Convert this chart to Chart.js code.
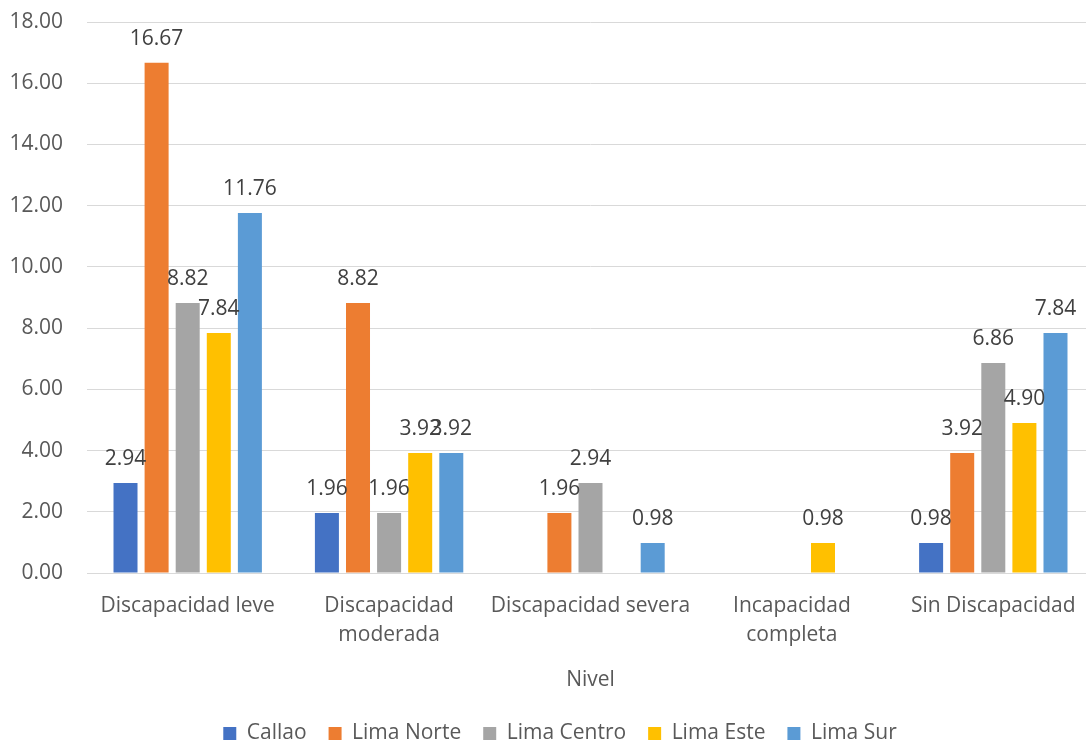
<!DOCTYPE html>
<html>
<head>
<meta charset="utf-8">
<script src="https://cdn.jsdelivr.net/npm/chart.js@4/dist/chart.umd.min.js"></script>
<style>
html,body{margin:0;padding:0;background:#fff;overflow:hidden;}
#wrap{width:1086px;height:742px;overflow:hidden;position:relative;}
#c{position:absolute;left:0;top:0;}
</style>
</head>
<body>
<div id="wrap"><canvas id="c" width="1094" height="754"></canvas></div>
<script>
const categories = ["Discapacidad leve", ["Discapacidad","moderada"], "Discapacidad severa", ["Incapacidad","completa"], "Sin Discapacidad"];
const seriesNames = ["Callao", "Lima Norte", "Lima Centro", "Lima Este", "Lima Sur"];
const callao     = [2.94, 1.96, null, null, 0.98];
const limaNorte  = [16.67, 8.82, 1.96, null, 3.92];
const limaCentro = [8.82, 1.96, 2.94, null, 6.86];
const limaEste   = [7.84, 3.92, null, 0.98, 4.90];
const limaSur    = [11.76, 3.92, 0.98, null, 7.84];
const colors = ["#4472C4", "#ED7D31", "#A5A5A5", "#FFC000", "#5B9BD5"];
const yTicks = {min: 0, max: 18, step: 2};
const axisTitle = "Nivel";

const FONT = "'Open Sans', sans-serif";
const seriesValues = [callao, limaNorte, limaCentro, limaEste, limaSur];

const labelPlugin = {
  id: 'valueLabels',
  afterDatasetsDraw(chart) {
    const ctx = chart.ctx;
    ctx.save();
    ctx.font = "21px " + FONT;
    ctx.fillStyle = "#404040";
    ctx.textAlign = "center";
    ctx.textBaseline = "alphabetic";
    chart.data.datasets.forEach((ds, i) => {
      const meta = chart.getDatasetMeta(i);
      meta.data.forEach((el, j) => {
        const v = ds.data[j];
        if (v === null || v === undefined) return;
        ctx.fillText(v.toFixed(2), el.x, el.y - 18);
      });
    });
    ctx.restore();
  }
};

new Chart(document.getElementById('c'), {
  type: 'bar',
  data: {
    labels: categories,
    datasets: seriesNames.map((n, i) => ({
      label: n,
      data: seriesValues[i],
      backgroundColor: colors[i],
      borderWidth: 0,
      categoryPercentage: 0.772,
      barPercentage: 0.772
    }))
  },
  options: {
    responsive: false,
    animation: false,
    devicePixelRatio: 1,
    layout: {padding: {left: 26, right: 0, top: 22, bottom: 0}},
    plugins: {
      legend: {
        position: 'bottom',
        labels: {
          boxWidth: 13, boxHeight: 13, padding: 22,
          color: "#595959",
          font: {family: FONT, size: 21}
        }
      },
      tooltip: {enabled: false}
    },
    scales: {
      x: {
        grid: {display: false, drawTicks: false},
        border: {display: true, color: "#d9d9d9", width: 1},
        ticks: {color: "#595959", font: {family: FONT, size: 21, lineHeight: 1.38}, padding: 19, maxRotation: 0, autoSkip: false},
        title: {display: true, text: axisTitle, color: "#595959", font: {family: FONT, size: 21}, padding: {top: 2, bottom: 8}},
        afterFit(s) { s.paddingLeft = 0; s.paddingRight = 0; s.height = 128; }
      },
      y: {
        min: yTicks.min, max: yTicks.max,
        grid: {color: "#d9d9d9", drawTicks: false, lineWidth: 1},
        border: {display: false},
        ticks: {stepSize: yTicks.step, color: "#595959", font: {family: FONT, size: 21}, padding: 24,
          callback: v => Number(v).toFixed(2)},
        afterFit(s) {
          s.width = 61; s.paddingTop = 0; s.paddingBottom = 0;
          s._computeLabelArea = function () { return undefined; };
        }
      }
    }
  },
  plugins: [labelPlugin]
});
</script>
</body>
</html>
